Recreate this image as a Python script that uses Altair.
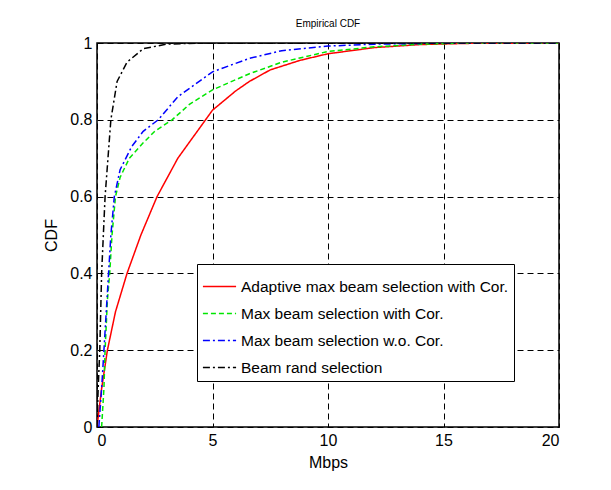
import altair as alt
import pandas as pd

series_names = [
    "Adaptive max beam selection with Cor.",
    "Max beam selection with Cor.",
    "Max beam selection w.o. Cor.",
    "Beam rand selection",
]
series_colors = ["#ff0000", "#00e600", "#0000ff", "#000000"]
series_dashes = [[1, 0], [5, 3], [7, 3, 2, 3], [7, 3, 2, 3]]

red_x = [0, 0.2, 0.45, 0.8, 1.3, 1.9, 2.6, 3.5, 4.7, 5.0, 6.0, 6.6, 7.5, 8.8, 10, 12, 14, 16, 20]
red_y = [0, 0.1, 0.2, 0.3, 0.4, 0.5, 0.6, 0.7, 0.8, 0.825, 0.875, 0.9, 0.93, 0.955, 0.972, 0.988, 0.996, 0.999, 1.0]

green_x = [0.2, 0.3, 0.35, 0.45, 0.55, 0.65, 0.8, 1.0, 1.4, 2.0, 2.5, 3.25, 4.0, 5.0, 6.6, 8.0, 10, 12, 14, 16, 20]
green_y = [0, 0.1, 0.2, 0.33, 0.4, 0.5, 0.6, 0.65, 0.7, 0.74, 0.77, 0.8, 0.84, 0.878, 0.92, 0.95, 0.978, 0.99, 0.997, 1.0, 1.0]

blue_x = [0.08, 0.2, 0.3, 0.43, 0.5, 0.6, 0.75, 1.0, 1.5, 2.0, 2.65, 3.5, 5.0, 6.6, 8.0, 10, 12, 15, 20]
blue_y = [0, 0.1, 0.2, 0.33, 0.4, 0.5, 0.6, 0.67, 0.73, 0.77, 0.8, 0.86, 0.925, 0.96, 0.98, 0.992, 0.997, 1.0, 1.0]

black_x = [0, 0.05, 0.12, 0.2, 0.35, 0.6, 0.87, 1.3, 2.0, 3.0, 4.5, 20]
black_y = [0, 0.1, 0.2, 0.4, 0.6, 0.8, 0.9, 0.95, 0.985, 0.997, 1.0, 1.0]

x_ticks = [0, 5, 10, 15, 20]
y_ticks = [0, 0.2, 0.4, 0.6, 0.8, 1.0]

rows = []
for name, xs, ys in zip(series_names,
                        [red_x, green_x, blue_x, black_x],
                        [red_y, green_y, blue_y, black_y]):
    for i, (a, b) in enumerate(zip(xs, ys)):
        rows.append({"series": name, "x": a, "y": b, "order": i})
df = pd.DataFrame(rows)

lines = alt.Chart(df).mark_line(strokeWidth=1.5, clip=True).encode(
    x=alt.X("x:Q", scale=alt.Scale(domain=[0, 20], nice=False),
            axis=alt.Axis(values=x_ticks, title="Mbps", format="d")),
    y=alt.Y("y:Q", scale=alt.Scale(domain=[0, 1], nice=False),
            axis=alt.Axis(values=y_ticks, title="CDF", format="~g")),
    color=alt.Color("series:N",
                    scale=alt.Scale(domain=series_names, range=series_colors),
                    sort=series_names,
                    legend=alt.Legend(title=None, orient="none", legendX=100, legendY=221,
                                      fillColor="white", strokeColor="black",
                                      padding=5, symbolType="stroke", symbolSize=1100,
                                      symbolStrokeWidth=1.5, labelFontSize=15.5,
                                      labelFont="Liberation Sans", labelColor="black",
                                      labelLimit=400, labelOffset=4, rowPadding=1)),
    strokeDash=alt.StrokeDash("series:N",
                              scale=alt.Scale(domain=series_names, range=series_dashes),
                              sort=series_names, legend=None),
    order="order:Q",
    detail="series:N",
)

chart = lines.properties(
    width=462,
    height=384,
    title=alt.Title("Empirical CDF", fontSize=10, fontWeight="normal",
                    font="Liberation Sans", offset=6, color="black"),
    padding={"left": 89, "top": 35, "right": 42, "bottom": 53},
    autosize=alt.AutoSizeParams(type="none"),
).configure_view(
    stroke="black", strokeWidth=1.5
).configure_axis(
    grid=True, gridColor="black", gridDash=[6, 4], gridOpacity=1, gridWidth=1,
    domain=False, ticks=False,
    labelFont="Liberation Sans", labelFontSize=16, labelColor="black",
    titleFont="Liberation Sans", titleFontSize=16, titleColor="black",
    titleFontWeight="normal", labelPadding=5,
).configure_axisY(
    titlePadding=10
).configure_axisX(
    titlePadding=6
)

chart.save("out.html", embed_options={"renderer": "svg", "actions": False})
